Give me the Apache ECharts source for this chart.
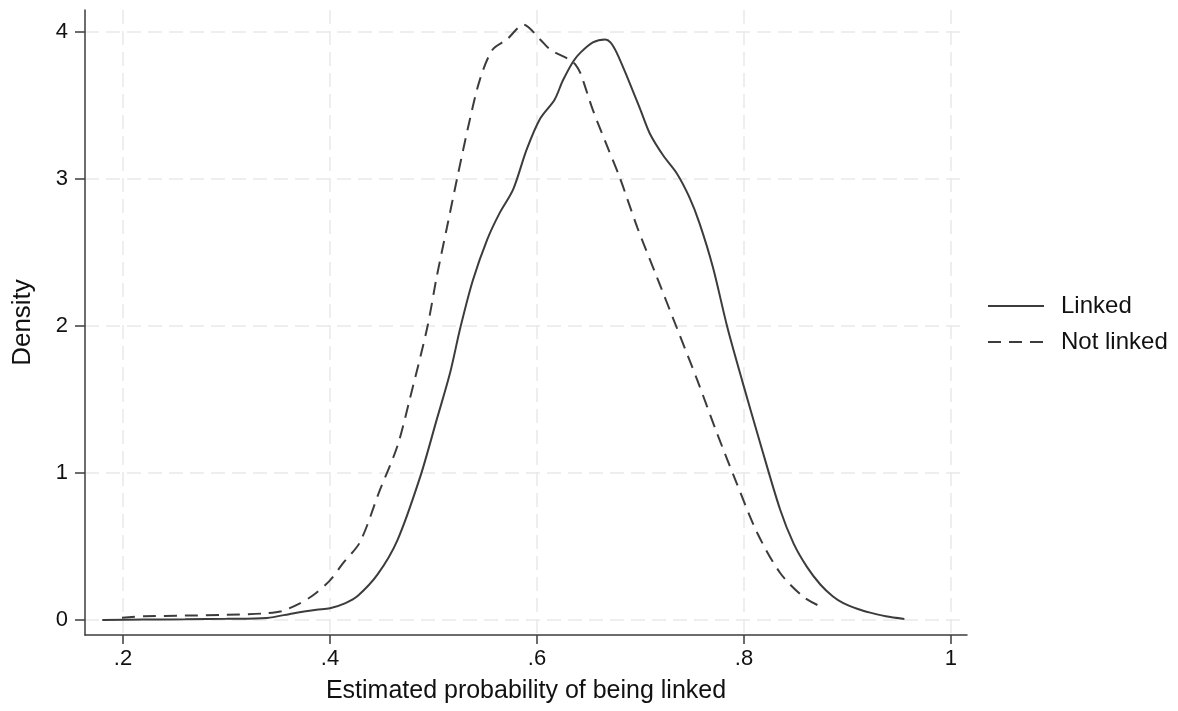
<!DOCTYPE html>
<html>
<head>
<meta charset="utf-8">
<script src="https://cdn.jsdelivr.net/npm/echarts@6/dist/echarts.min.js"></script>
<style>
html,body{margin:0;padding:0;background:#fff;}
#chart{width:1178px;height:711px;}
</style>
</head>
<body>
<div id="chart"></div>
<script>
// ---- data ----
var seriesNames = ['Linked', 'Not linked'];
var linkedX = [0.180,0.220,0.260,0.300,0.339,0.364,0.387,0.400,0.415,0.427,0.446,0.465,0.487,0.503,0.516,0.526,0.538,0.552,0.564,0.577,0.590,0.603,0.617,0.625,0.635,0.642,0.654,0.666,0.671,0.677,0.688,0.700,0.709,0.722,0.735,0.747,0.757,0.770,0.784,0.799,0.815,0.835,0.848,0.861,0.874,0.886,0.896,0.910,0.922,0.937,0.955];
var linkedY = [0.000,0.003,0.005,0.008,0.014,0.045,0.070,0.080,0.115,0.165,0.310,0.540,0.970,1.360,1.680,1.990,2.310,2.590,2.770,2.930,3.200,3.410,3.540,3.670,3.800,3.860,3.930,3.950,3.930,3.860,3.680,3.470,3.310,3.160,3.040,2.880,2.700,2.400,1.990,1.610,1.220,0.750,0.520,0.360,0.240,0.160,0.115,0.075,0.050,0.025,0.007];
var notLinkedX = [0.199,0.220,0.260,0.300,0.337,0.353,0.370,0.384,0.400,0.413,0.429,0.448,0.465,0.477,0.494,0.503,0.513,0.523,0.535,0.545,0.557,0.571,0.587,0.603,0.613,0.632,0.637,0.642,0.654,0.668,0.680,0.697,0.716,0.735,0.755,0.774,0.793,0.813,0.835,0.857,0.873];
var notLinkedY = [0.015,0.025,0.030,0.035,0.045,0.060,0.110,0.170,0.270,0.390,0.530,0.880,1.180,1.500,1.990,2.330,2.670,3.010,3.400,3.680,3.880,3.950,4.050,3.950,3.880,3.810,3.780,3.720,3.470,3.220,3.010,2.670,2.330,1.990,1.630,1.270,0.930,0.590,0.320,0.160,0.095];
var xTicks = [0.2, 0.4, 0.6, 0.8, 1];
var yTicks = [0, 1, 2, 3, 4];
var xTitle = 'Estimated probability of being linked';
var yTitle = 'Density';

function pairs(xs, ys) { return xs.map(function (x, i) { return [x, ys[i]]; }); }

var FONT = 'Liberation Sans, Arial, Helvetica, sans-serif';
var LINE = '#3c3c3c';
var GRID = '#e9e9e9';
var TXT = '#111111';

var chart = echarts.init(document.getElementById('chart'), null, {renderer: 'canvas'});
chart.setOption({
  backgroundColor: '#ffffff',
  animation: false,
  textStyle: {fontFamily: FONT},
  grid: {left: 85, right: 211, top: 10, bottom: 76, containLabel: false},
  legend: {
    orient: 'vertical',
    left: 987,
    top: 294,
    padding: 0,
    itemWidth: 56,
    itemHeight: 14,
    itemGap: 12,
    itemStyle: {opacity: 0},
    textStyle: {fontFamily: FONT, fontSize: 24, color: TXT, padding: [0, 0, 0, 12]},
    data: seriesNames
  },
  xAxis: {
    type: 'value',
    min: 0.1633,
    max: 1.0155,
    name: xTitle,
    nameLocation: 'middle',
    nameGap: 44,
    nameTextStyle: {fontFamily: FONT, fontSize: 25, color: TXT},
    axisLine: {show: true, onZero: false, lineStyle: {color: LINE, width: 1.5}},
    axisTick: {show: true, length: 9, customValues: xTicks, lineStyle: {color: LINE, width: 1.5}},
    axisLabel: {
      customValues: xTicks,
      margin: 13,
      fontFamily: FONT, fontSize: 22, color: TXT,
      formatter: function (v) { return v === 1 ? '1' : String(v).replace(/^0/, ''); }
    },
    splitLine: {show: true, lineStyle: {color: GRID, width: 1.5, type: [14, 7]}}
  },
  yAxis: {
    type: 'value',
    min: -0.102,
    max: 4.15,
    name: yTitle,
    nameLocation: 'middle',
    nameGap: 49,
    nameRotate: 90,
    nameTextStyle: {fontFamily: FONT, fontSize: 26, color: TXT},
    axisLine: {show: true, onZero: false, lineStyle: {color: LINE, width: 1.5}},
    axisTick: {show: true, length: 10, customValues: yTicks, lineStyle: {color: LINE, width: 1.5}},
    axisLabel: {
      customValues: yTicks,
      margin: 17,
      fontFamily: FONT, fontSize: 22, color: TXT
    },
    splitLine: {show: true, lineStyle: {color: GRID, width: 1.5, type: [14, 7]}}
  },
  series: [
    {
      name: seriesNames[0],
      type: 'line',
      data: pairs(linkedX, linkedY),
      smooth: 0.3,
      symbol: 'none',
      lineStyle: {color: LINE, width: 2, type: 'solid'},
      itemStyle: {color: LINE}
    },
    {
      name: seriesNames[1],
      type: 'line',
      data: pairs(notLinkedX, notLinkedY),
      smooth: 0.3,
      symbol: 'none',
      lineStyle: {color: LINE, width: 2, type: [13, 8]},
      itemStyle: {color: LINE}
    }
  ]
});
</script>
</body>
</html>
